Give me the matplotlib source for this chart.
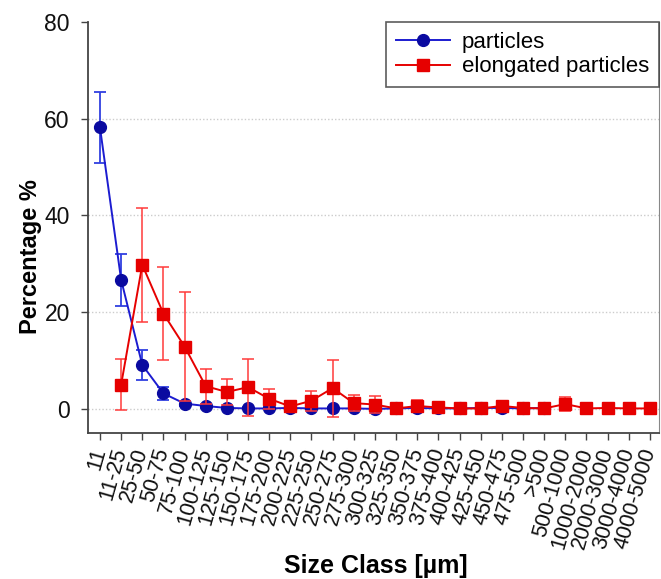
import matplotlib
matplotlib.use("Agg")
import matplotlib.pyplot as plt
from matplotlib.lines import Line2D
import numpy as np

plt.rcParams['font.family'] = ['Liberation Sans', 'DejaVu Sans']

categories = ["11", "11-25", "25-50", "50-75", "75-100", "100-125", "125-150", "150-175",
              "175-200", "200-225", "225-250", "250-275", "275-300", "300-325", "325-350",
              "350-375", "375-400", "400-425", "425-450", "450-475", "475-500", ">500",
              "500-1000", "1000-2000", "2000-3000", "3000-4000", "4000-5000"]

particles = [58.2, 26.7, 9.1, 3.2, 1.1, 0.6, 0.2, 0.1, 0.1, 0.2, 0.1, 0.1, 0.1, 0.0,
             0.1, 0.2, 0.1, 0.1, 0.2, 0.2, 0.1, 0.2]
particles_err = [7.3, 5.4, 3.1, 1.4, 0.6, 0.4, 0.2, 0.2, 0.2, 0.2, 0.2, 0.2, 0.2, 0.5,
                 0.2, 0.3, 0.2, 0.2, 0.2, 0.4, 0.2, 0.2]

elongated = [None, 5.0, 29.8, 19.7, 12.9, 4.7, 3.5, 4.5, 2.1, 0.5, 1.7, 4.3, 1.2, 0.9,
             0.1, 0.6, 0.3, 0.1, 0.1, 0.6, 0.2, 0.1, 1.0, 0.1, 0.2, 0.1, 0.1]
elongated_err = [None, 5.3, 11.8, 9.6, 11.3, 3.6, 2.7, 5.9, 2.1, 0.4, 2.1, 5.9, 1.6, 1.8,
                 0.2, 1.2, 0.3, 0.2, 0.2, 1.1, 0.3, 0.2, 1.5, 0.2, 0.2, 0.2, 0.2]

BLUE_LINE = '#1c1cd0'
BLUE_MARK = '#0a0aa0'
RED = '#e60000'
RED_ERR = '#ff3a3a'

fig = plt.figure(figsize=(6.61, 5.79), dpi=100)
ax = fig.add_axes([0.133, 0.252, 0.864, 0.71])

x = np.arange(len(categories))
xp = x[:len(particles)]
ax.errorbar(xp, particles, yerr=particles_err, color=BLUE_LINE, ecolor='#3040e0',
            lw=1.4, elinewidth=1.3, capsize=4, capthick=1.3, marker='o', ms=8.5,
            mfc=BLUE_MARK, mec=BLUE_MARK, zorder=3)

xe = [xi for xi, v in zip(x, elongated) if v is not None]
ye = [v for v in elongated if v is not None]
ee = [v for v in elongated_err if v is not None]
ax.errorbar(xe, ye, yerr=ee, color=RED, ecolor=RED_ERR,
            lw=1.4, elinewidth=1.1, capsize=4, capthick=1.1, marker='s', ms=8,
            mfc=RED, mec=RED, zorder=4)

ax.set_xlim(-0.57, 26.43)
ax.set_ylim(-5, 80)
ax.set_yticks([0, 20, 40, 60, 80])
ax.set_xticks(x)
ax.set_xticklabels(categories, rotation=74, ha='right', va='center',
                   rotation_mode='anchor')
ax.tick_params(axis='both', direction='out', length=5, width=1,
               color='#444444', labelcolor='#111111')
ax.tick_params(axis='y', labelsize=16.5, pad=8)
ax.tick_params(axis='x', labelsize=15.5, pad=6)

for y in [0, 20, 40, 60]:
    ax.axhline(y, color='#cccccc', lw=1, ls=(0, (1, 1.5)), zorder=0)

ax.spines['top'].set_visible(False)
ax.spines['right'].set_color('#888888')
ax.spines['right'].set_linewidth(0.8)
for s in ['left', 'bottom']:
    ax.spines[s].set_color('#444444')
    ax.spines[s].set_linewidth(1.3)

ax.set_ylabel('Percentage %', fontsize=17, fontweight='bold', va='center')
ax.yaxis.set_label_coords(-0.0998, 0.43)
ax.set_xlabel('Size Class [µm]', fontsize=18, fontweight='bold', va='top')
ax.xaxis.set_label_coords(0.504, -0.295)

handles = [Line2D([], [], color=BLUE_LINE, lw=1.4, marker='o', ms=8.5,
                  mfc=BLUE_MARK, mec=BLUE_MARK),
           Line2D([], [], color=RED, lw=1.4, marker='s', ms=8, mfc=RED, mec=RED)]
leg = ax.legend(handles, ['particles', 'elongated particles'], loc='upper right',
                fontsize=16, frameon=True, fancybox=False, edgecolor='#333333',
                borderaxespad=0, handlelength=2.4, handletextpad=0.55,
                borderpad=0.45, labelspacing=0.15)
leg.get_frame().set_linewidth(1.2)

fig.savefig('out.png', dpi=100)
